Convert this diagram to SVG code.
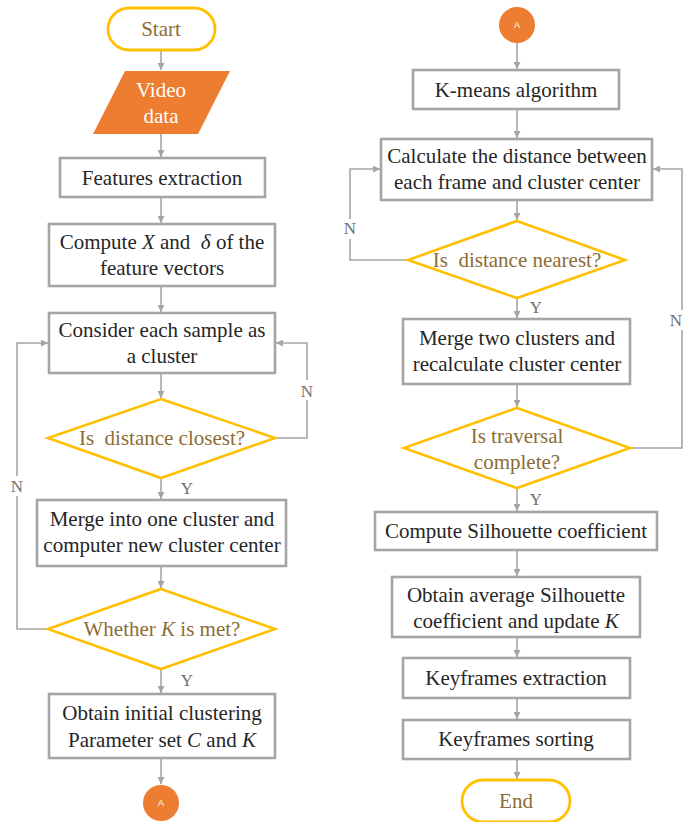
<svg xmlns="http://www.w3.org/2000/svg" width="683" height="822" viewBox="0 0 683 822">
<style>
.box{fill:#fff;stroke:#A5A5A5;stroke-width:2.6}
.dia{fill:#fff;stroke:#FFC000;stroke-width:2.6}
.term{fill:#fff;stroke:#FFC000;stroke-width:2.8}
.t{font-family:"Liberation Serif","DejaVu Serif",serif;font-size:21px;fill:#262626;text-anchor:middle;white-space:pre}
.g{fill:#8C6D35}
.w{fill:#fff}
.i{font-style:italic}
.lab{font-family:"Liberation Serif","DejaVu Serif",serif;font-size:17px;fill:#6f6f6f;text-anchor:middle}
.c{fill:none;stroke:#A5A5A5;stroke-width:1.6}
.circ{fill:#ED7D31}
.ct{font-family:"Liberation Sans",Arial,sans-serif;font-size:9px;fill:#fff;text-anchor:middle}
</style>
<defs>
<marker id="ah" viewBox="0 0 10 10" refX="10" refY="5" markerWidth="7" markerHeight="7" markerUnits="userSpaceOnUse" orient="auto">
<path d="M0,0 L10,5 L0,10 z" fill="#A5A5A5"/>
</marker>
</defs>
<rect width="683" height="822" fill="#fff"/>
<g id="connectors">
<path class="c" d="M161,50 V70" marker-end="url(#ah)"/>
<path class="c" d="M161,134 V157" marker-end="url(#ah)"/>
<path class="c" d="M161,197 V223" marker-end="url(#ah)"/>
<path class="c" d="M161,286 V312" marker-end="url(#ah)"/>
<path class="c" d="M161,373 V398" marker-end="url(#ah)"/>
<path class="c" d="M275,438 H307 V343 H276" marker-end="url(#ah)"/>
<path class="c" d="M161,478 V499" marker-end="url(#ah)"/>
<path class="c" d="M161,566 V588" marker-end="url(#ah)"/>
<path class="c" d="M48,629 H17 V343 H48" marker-end="url(#ah)"/>
<path class="c" d="M161,669 V693" marker-end="url(#ah)"/>
<path class="c" d="M161,758 V784" marker-end="url(#ah)"/>
<path class="c" d="M517,43 V69" marker-end="url(#ah)"/>
<path class="c" d="M517,109 V138" marker-end="url(#ah)"/>
<path class="c" d="M517,200 V220" marker-end="url(#ah)"/>
<path class="c" d="M408,260 H350 V169 H380" marker-end="url(#ah)"/>
<path class="c" d="M517,298 V318" marker-end="url(#ah)"/>
<path class="c" d="M517,384 V407" marker-end="url(#ah)"/>
<path class="c" d="M630,448 H682 V169 H653" marker-end="url(#ah)"/>
<path class="c" d="M517,488 V511" marker-end="url(#ah)"/>
<path class="c" d="M517,550 V576" marker-end="url(#ah)"/>
<path class="c" d="M517,637 V657" marker-end="url(#ah)"/>
<path class="c" d="M517,698 V719" marker-end="url(#ah)"/>
<path class="c" d="M517,759 V779" marker-end="url(#ah)"/>
<rect x="299" y="380" width="16" height="20" fill="#fff"/>
<text class="lab" x="307" y="397">N</text>
<rect x="9" y="476" width="16" height="20" fill="#fff"/>
<text class="lab" x="17" y="492">N</text>
<rect x="342" y="219" width="16" height="20" fill="#fff"/>
<text class="lab" x="350" y="234">N</text>
<rect x="669" y="310" width="14" height="20" fill="#fff"/>
<text class="lab" x="682" y="326" text-anchor="end" style="text-anchor:end">N</text>
<text class="lab" x="187" y="494">Y</text>
<text class="lab" x="187" y="686">Y</text>
<text class="lab" x="536" y="313">Y</text>
<text class="lab" x="536" y="505">Y</text>
</g>
<g id="start"><rect class="term" x="108" y="8" width="107" height="42" rx="21"/><text class="t g" x="161" y="36">Start</text></g>
<g id="video"><polygon points="125,71 230,71 198,134 93,134" fill="#ED7D31"/><text class="t w" x="161" y="97">Video</text><text class="t w" x="161" y="123">data</text></g>
<g id="features"><rect class="box" x="60" y="158" width="205" height="39"/><text class="t" x="162" y="185">Features extraction</text></g>
<g id="compute"><rect class="box" x="49" y="224" width="226" height="62"/><text class="t" x="162" y="249">Compute <tspan class="i">X</tspan> and  <tspan class="i">δ</tspan> of the</text><text class="t" x="162" y="275">feature vectors</text></g>
<g id="consider"><rect class="box" x="49" y="313" width="226" height="60"/><text class="t" x="162" y="337">Consider each sample as</text><text class="t" x="162" y="363">a cluster</text></g>
<g id="closest"><polygon class="dia" points="161,399 275,438 161,478 48,438"/><text class="t g" x="162" y="445">Is  distance closest?</text></g>
<g id="merge1"><rect class="box" x="37" y="500" width="249" height="66"/><text class="t" x="162" y="526">Merge into one cluster and</text><text class="t" x="162" y="552">computer new cluster center</text></g>
<g id="whetherK"><polygon class="dia" points="161,589 275,629 161,669 48,629"/><text class="t g" x="162" y="636">Whether <tspan class="i">K</tspan> is met?</text></g>
<g id="obtain1"><rect class="box" x="49" y="694" width="226" height="64"/><text class="t" x="162" y="720">Obtain initial clustering</text><text class="t" x="162" y="747">Parameter set <tspan class="i">C</tspan> and <tspan class="i">K</tspan></text></g>
<g id="A1"><circle class="circ" cx="161" cy="803" r="18"/><text class="ct" x="161" y="806">A</text></g>
<g id="A2"><circle class="circ" cx="517" cy="25" r="18"/><text class="ct" x="517" y="28">A</text></g>
<g id="kmeans"><rect class="box" x="413" y="70" width="206" height="39"/><text class="t" x="516" y="97">K-means algorithm</text></g>
<g id="calc"><rect class="box" x="381" y="139" width="271" height="61"/><text class="t" x="517" y="163">Calculate the distance between</text><text class="t" x="517" y="189">each frame and cluster center</text></g>
<g id="nearest"><polygon class="dia" points="517,221 625,260 517,298 408,260"/><text class="t g" x="517" y="267">Is  distance nearest?</text></g>
<g id="merge2"><rect class="box" x="403" y="319" width="227" height="65"/><text class="t" x="517" y="345">Merge two clusters and</text><text class="t" x="517" y="371">recalculate cluster center</text></g>
<g id="traversal"><polygon class="dia" points="517,408 630,448 517,488 404,448"/><text class="t g" x="517" y="443">Is traversal</text><text class="t g" x="517" y="469">complete?</text></g>
<g id="silh"><rect class="box" x="375" y="512" width="282" height="38"/><text class="t" x="516" y="538">Compute Silhouette coefficient</text></g>
<g id="avg"><rect class="box" x="392" y="577" width="248" height="60"/><text class="t" x="516" y="602">Obtain average Silhouette</text><text class="t" x="516" y="628">coefficient and update <tspan class="i">K</tspan></text></g>
<g id="kfe"><rect class="box" x="403" y="658" width="227" height="40"/><text class="t" x="516" y="685">Keyframes extraction</text></g>
<g id="kfs"><rect class="box" x="403" y="720" width="227" height="39"/><text class="t" x="516" y="746">Keyframes sorting</text></g>
<g id="end"><rect class="term" x="462" y="780" width="108" height="42" rx="21"/><text class="t g" x="516" y="808">End</text></g>
</svg>
